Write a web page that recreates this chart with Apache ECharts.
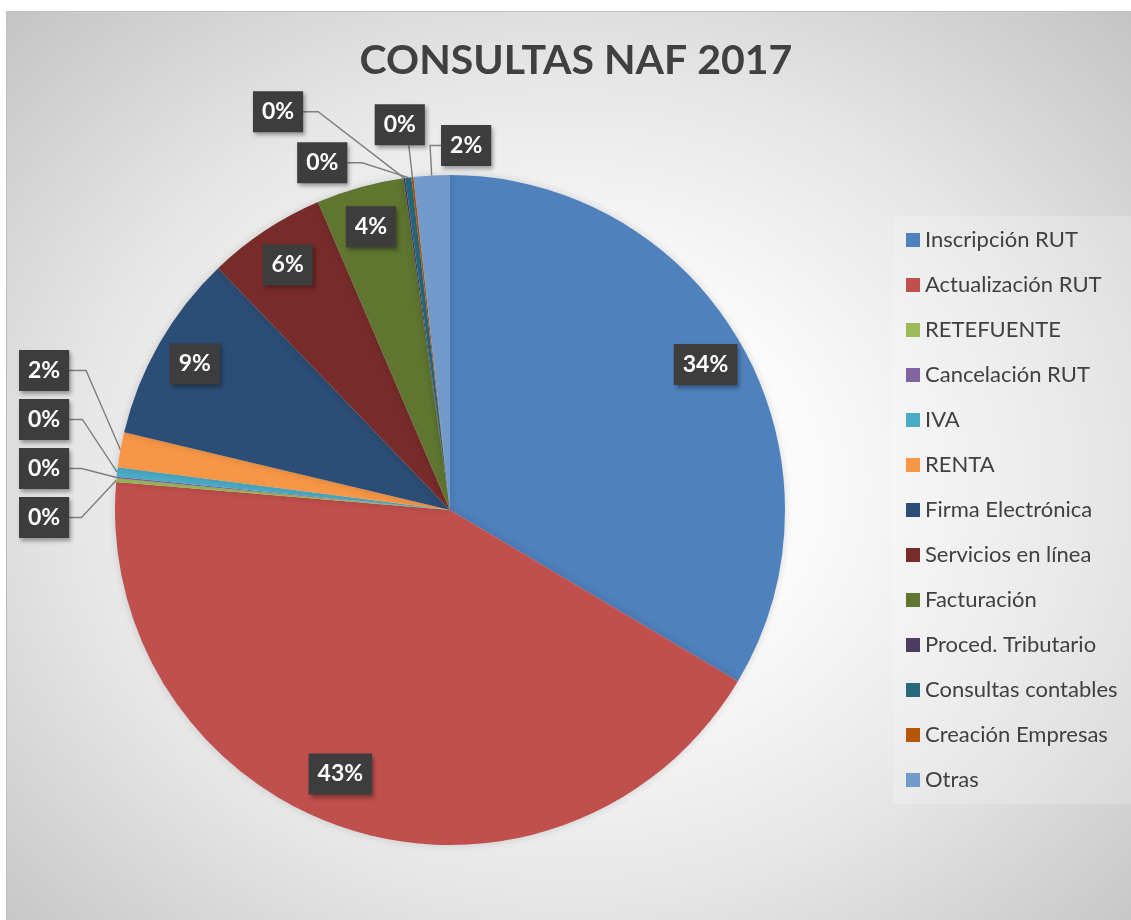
<!DOCTYPE html>
<html><head><meta charset="utf-8">
<script src="https://cdn.jsdelivr.net/npm/echarts@6/dist/echarts.min.js"></script>
<style>
html,body{margin:0;padding:0;background:#fff;width:1131px;height:920px;overflow:hidden}
#bg{position:absolute;left:6px;top:11px;width:1125px;height:909px;border-left:1px solid #bdbdbd;border-top:1px solid #bdbdbd;box-sizing:border-box;
background:radial-gradient(ellipse farthest-corner at 50% 52%, #ffffff 0%, #fbfbfb 30%, #e6e6e6 62%, #c4c4c4 100%);}
#chart{position:absolute;left:0;top:0;width:1131px;height:920px}
</style></head><body><div id="bg"></div><div id="chart"></div>
<script>
const titleText = 'CONSULTAS NAF 2017';
const categories = ['Inscripción RUT','Actualización RUT','RETEFUENTE','Cancelación RUT','IVA','RENTA','Firma Electrónica','Servicios en línea','Facturación','Proced. Tributario','Consultas contables','Creación Empresas','Otras'];
const values = [3370, 4300, 18, 8, 45, 170, 915, 575, 425, 8, 30, 10, 175];
const colors = ['#4F81BD','#C0504D','#9BBB59','#8064A2','#4BACC6','#F79646','#2C4D75','#772C2A','#5F7530','#4D3B62','#276A7C','#B65708','#729ACA'];
const insideNames = ['Inscripción RUT','Actualización RUT','Firma Electrónica','Servicios en línea','Facturación'];
const leftNames = ['RETEFUENTE','Cancelación RUT','IVA','RENTA'];
const topNames = ['Proced. Tributario','Consultas contables','Creación Empresas','Otras'];

// label-line styling (length, length2) for the top group
const topLineStyle = {'Proced. Tributario':[67,92],'Consultas contables':[15,59],'Creación Empresas':[32,0],'Otras':[30,0]};
const LEFT_GROUP_SHIFT = -73;
// small nudges of inside labels (style offsets)
const insideNudge = {'Actualización RUT':[-20,-16]};

const FONT = 'Lato';
const pct = p => Math.round(p.percent) + '%';
const boxLabel = {
  color:'#fff', fontFamily:FONT, fontWeight:'bold', fontSize:23, lineHeight:25,
  backgroundColor:'#3d3d3d', padding:[8,9,8,9],
  shadowColor:'rgba(0,0,0,0.35)', shadowBlur:4, shadowOffsetX:2, shadowOffsetY:3,
  formatter: pct
};
const lineStyle = {color:'#7f7f7f', width:1.4};
const CENTER = [450, 510], R = 335;

const mainData = categories.map((n,i)=>({
  name:n, value:values[i], itemStyle:{color:colors[i]},
  label:{show: leftNames.includes(n)}, labelLine:{show: leftNames.includes(n)}
}));
const topData = categories.map((n,i)=>{
  const on = topNames.includes(n);
  const o = {name:n, value:values[i], itemStyle:{color:'rgba(0,0,0,0)'}, label:{show:on}, labelLine:{show:on}};
  if (on) o.labelLine.length = topLineStyle[n][0], o.labelLine.length2 = topLineStyle[n][1];
  return o;
});
const inData = categories.map((n,i)=>({
  name:n, value:values[i], itemStyle:{color:'rgba(0,0,0,0)'}, label:{show: insideNames.includes(n)}
}));

const chart = echarts.init(document.getElementById('chart'));
chart.setOption({
  animation:false,
  title:{text:titleText, left:576, textAlign:'center', top:40, padding:0,
    textStyle:{fontFamily:FONT, fontWeight:'bold', fontSize:41, color:'#404040'}},
  legend:{orient:'vertical', left:893, top:216, padding:[13,20,13,13],
    itemWidth:14, itemHeight:14, itemGap:23, icon:'rect',
    backgroundColor:'rgba(255,255,255,0.2)', selectedMode:false,
    textStyle:{fontFamily:FONT, fontSize:22, color:'#404040', lineHeight:20},
    data:categories},
  series:[
    {type:'pie', name:'main', center:CENTER, radius:R, startAngle:90, clockwise:true,
     avoidLabelOverlap:true, data:mainData,
     itemStyle:{shadowColor:'rgba(0,0,0,0.15)', shadowBlur:8},
     emphasis:{disabled:true},
     label:Object.assign({position:'outside', alignTo:'edge', edgeDistance:19, distanceToLabelLine:0, margin:8, minMargin:8}, boxLabel),
     labelLine:{length:35, length2:0, smooth:false, lineStyle},
     labelLayout:function(p){
       const pts = p.labelLinePoints; if(!pts) return {};
       const s = LEFT_GROUP_SHIFT;
       return {y: p.labelRect.y + p.labelRect.height/2 + s, verticalAlign:'middle',
         labelLinePoints: pts.map((q,k)=> k===0 ? q : [q[0], q[1]+s])};
     }
    },
    {type:'pie', name:'top', center:CENTER, radius:R, startAngle:90, clockwise:true, silent:true,
     avoidLabelOverlap:false, data:topData, emphasis:{disabled:true},
     label:Object.assign({position:'outside', distanceToLabelLine:0}, boxLabel),
     labelLine:{smooth:false, lineStyle},
     labelLayout:function(p){
       const pts = p.labelLinePoints; if(!pts) return {};
       const n = categories[p.dataIndex];
       const a = pts[0], c = pts[pts.length-1];
       if (n === 'Otras') return {x:c[0]+11, y:c[1], align:'left', verticalAlign:'middle', labelLinePoints:[a, c, [c[0]+11, c[1]]]};
       if (n === 'Creación Empresas') return {x:c[0]-9, y:c[1], align:'center', verticalAlign:'bottom', labelLinePoints:[a, c]};
       return {labelLinePoints:[a, [c[0]+15, c[1]], c]};
     }
    },
    {type:'pie', name:'inside', center:CENTER, radius:[247, R], startAngle:90, clockwise:true, silent:true,
     avoidLabelOverlap:false, data:inData, emphasis:{disabled:true},
     label:Object.assign({position:'inside'}, boxLabel), labelLine:{show:false},
     labelLayout:function(p){
       const nd = insideNudge[categories[p.dataIndex]]; if(!nd) return {};
       return {x: p.labelRect.x + p.labelRect.width/2 + nd[0], y: p.labelRect.y + p.labelRect.height/2 + nd[1], align:'center', verticalAlign:'middle'};
     }
    }
  ]
});
</script></body></html>
